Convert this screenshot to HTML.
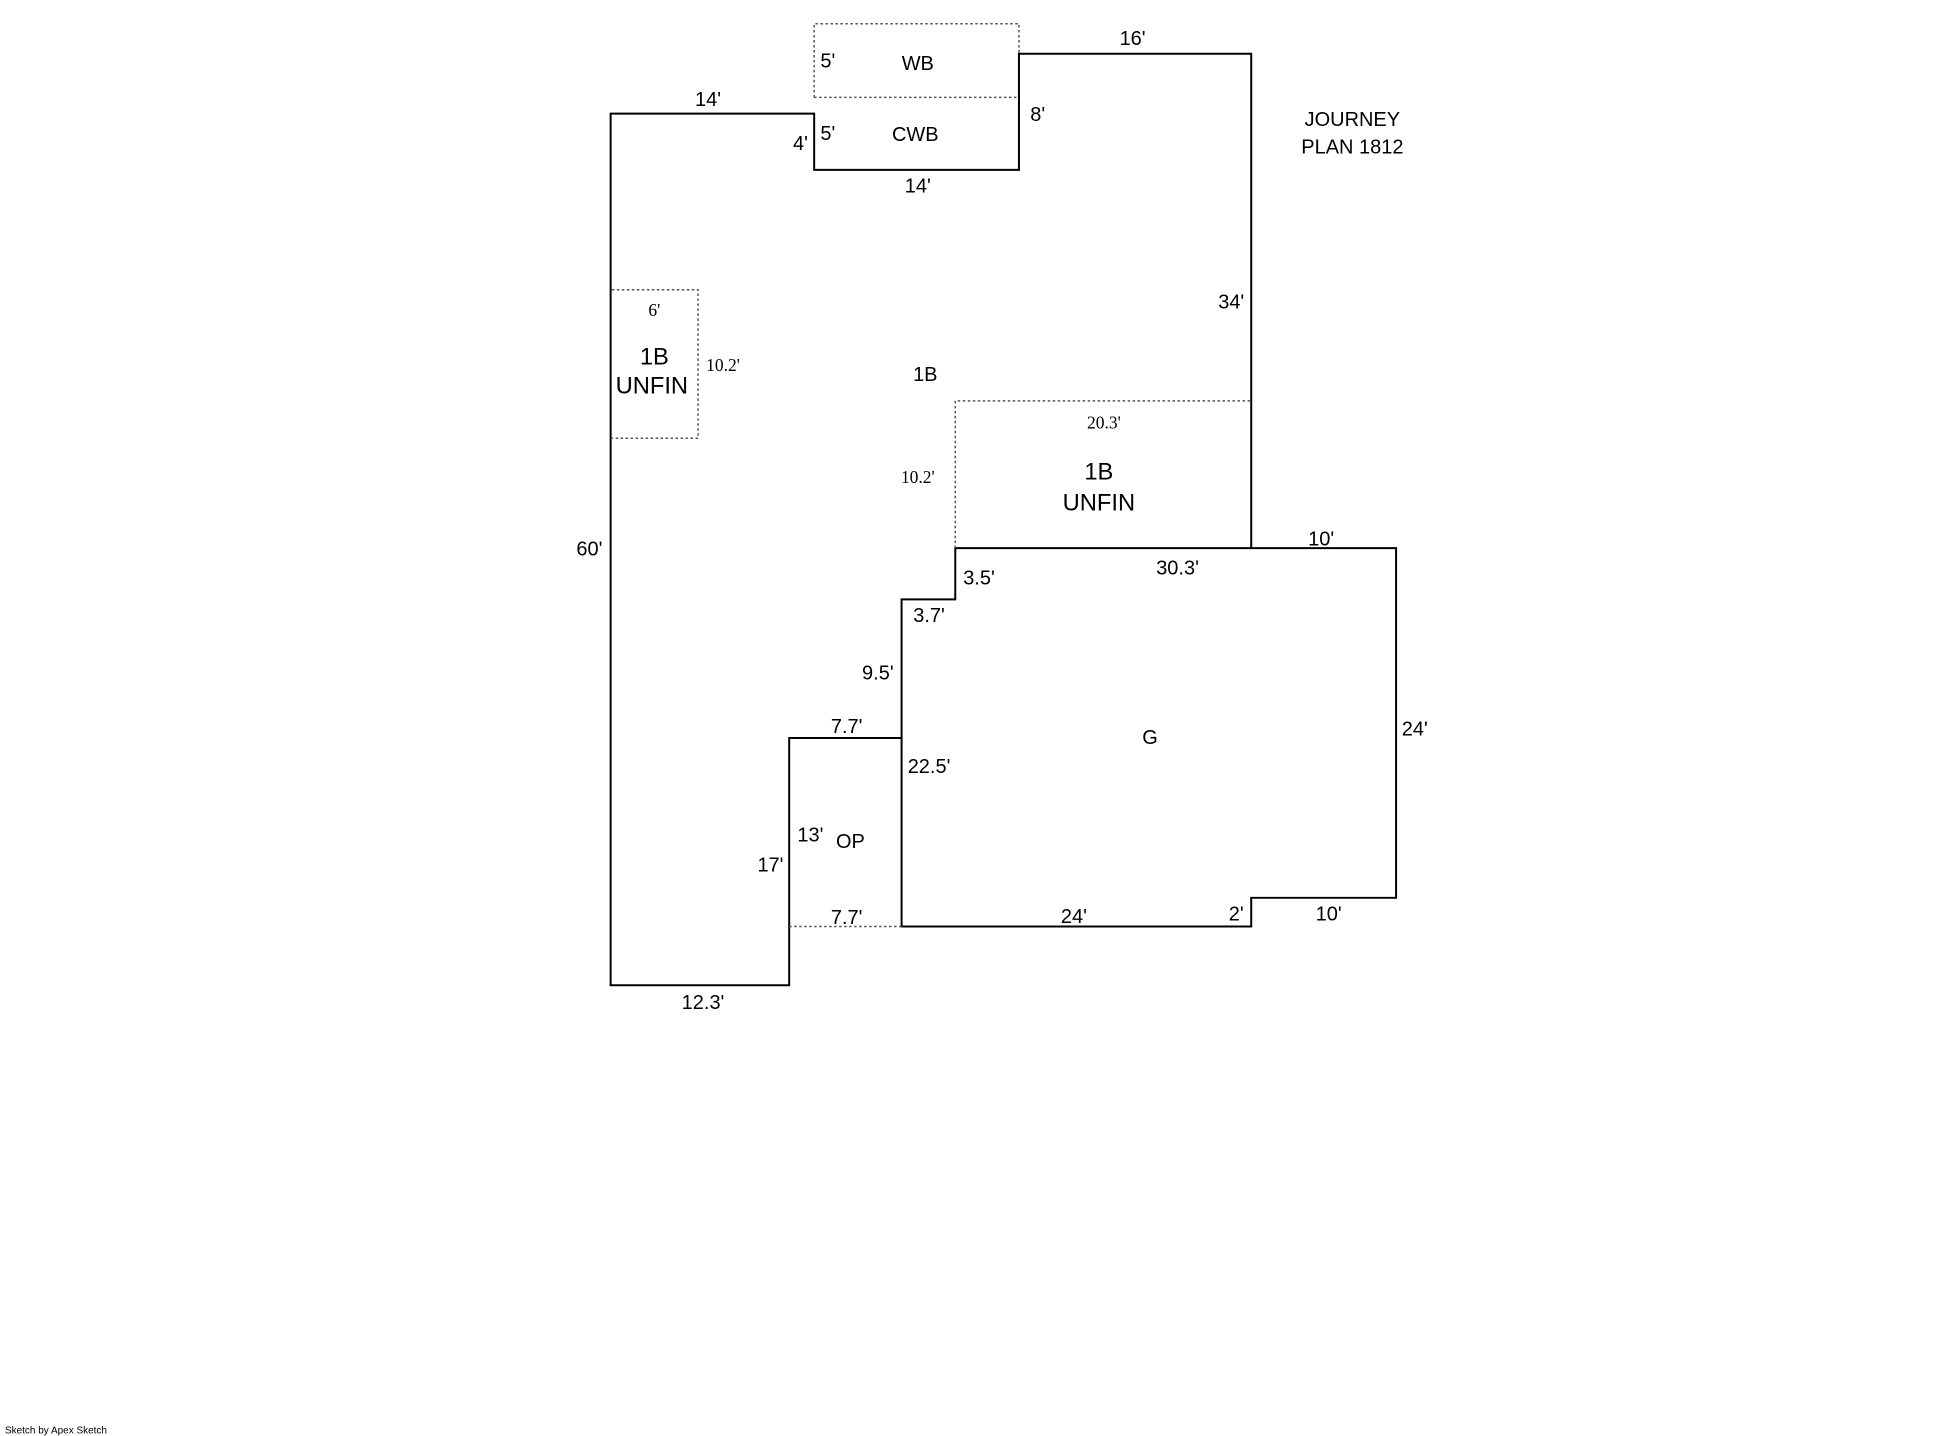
<!DOCTYPE html>
<html><head><meta charset="utf-8"><style>html,body{margin:0;padding:0;background:#fff}svg{display:block}</style></head>
<body>
<svg width="1958" height="1436" viewBox="0 0 1568 1150" preserveAspectRatio="none" xmlns="http://www.w3.org/2000/svg" font-family="Liberation Sans, DejaVu Sans, sans-serif" fill="#000">
<g fill="none" stroke="#000" stroke-width="1.6">
<polygon points="489,91 652,91 652,136 816,136 816,43 1002,43 1002,439 1118,439 1118,719 1002,719 1002,742 722,742 722,591 632,591 632,789 489,789"/>
<polyline points="722,591 722,480 765,480 765,439 1002,439"/>
</g>
<g fill="none" stroke="#555" stroke-width="1.2" stroke-dasharray="2,2">
<polyline points="652,78 652,19 816,19 816,43"/>
<line x1="652" y1="78" x2="816" y2="78"/>
<polyline points="490,232 559,232 559,351 490,351"/>
<polyline points="765,439 765,321 1002,321"/>
<line x1="632" y1="742" x2="722" y2="742"/>
</g>
<g font-size="16" text-anchor="middle">
<text x="907" y="36">16'</text>
<text x="735" y="56">WB</text>
<text x="663" y="54">5'</text>
<text x="663" y="112">5'</text>
<text x="733" y="113">CWB</text>
<text x="831" y="97">8'</text>
<text x="567" y="85">14'</text>
<text x="641" y="120">4'</text>
<text x="735" y="154">14'</text>
<text x="1083" y="101">JOURNEY</text>
<text x="1083" y="123">PLAN 1812</text>
<text x="986" y="247">34'</text>
<text x="741" y="305">1B</text>
<text x="472" y="445">60'</text>
<text x="1058" y="437">10'</text>
<text x="943" y="460">30.3'</text>
<text x="784" y="468">3.5'</text>
<text x="744" y="498">3.7'</text>
<text x="703" y="544">9.5'</text>
<text x="678" y="587">7.7'</text>
<text x="744" y="619">22.5'</text>
<text x="921" y="596">G</text>
<text x="1133" y="589">24'</text>
<text x="649" y="674">13'</text>
<text x="681" y="679">OP</text>
<text x="617" y="698">17'</text>
<text x="678" y="740">7.7'</text>
<text x="860" y="739">24'</text>
<text x="990" y="737">2'</text>
<text x="1064" y="737">10'</text>
<text x="563" y="808">12.3'</text>
</g>
<g font-family="Liberation Serif, DejaVu Serif, serif" font-size="14" text-anchor="middle">
<text x="524" y="253">6'</text>
<text x="579" y="297">10.2'</text>
<text x="884" y="343">20.3'</text>
<text x="735" y="387">10.2'</text>
</g>
<g font-size="19" text-anchor="middle">
<text x="524" y="292">1B</text>
<text x="522" y="315">UNFIN</text>
<text x="880" y="384">1B</text>
<text x="880" y="409">UNFIN</text>
</g>
<text x="4" y="1148" font-size="8">Sketch by Apex Sketch</text>
</svg>
</body></html>
